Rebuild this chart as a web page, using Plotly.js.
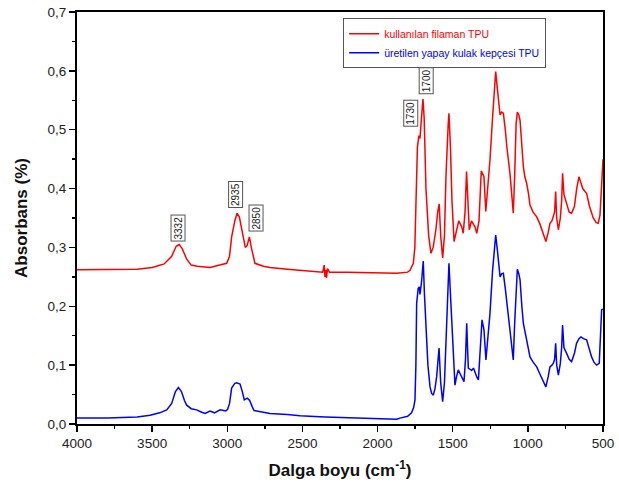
<!DOCTYPE html>
<html>
<head>
<meta charset="utf-8">
<script src="https://cdn.plot.ly/plotly-3.0.1.min.js"></script>
<style>html,body{margin:0;padding:0;background:#fff;}#chart{width:619px;height:488px;}</style>
</head>
<body>
<div id="chart"></div>
<script>
// Red: kullanılan filaman TPU
const redWn = [4000,3800,3600,3500,3420,3370,3340,3320,3300,3270,3240,3200,3115,3050,3004,2985,2971,2950,2935,2920,2900,2880,2868,2853,2840,2816,2760,2716,2600,2405,2365,2355,2350,2345,2340,2333,2320,2200,2000,1873,1800,1784,1762,1752,1744,1735,1725,1718,1708,1698,1690,1678,1660,1645,1630,1612,1600,1590,1580,1567,1555,1545,1530,1525,1515,1505,1491,1475,1460,1450,1440,1430,1418,1408,1400,1390,1375,1365,1352,1340,1325,1310,1300,1292,1280,1270,1252,1235,1222,1214,1205,1195,1185,1175,1163,1150,1140,1119,1105,1097,1088,1078,1070,1060,1052,1040,1030,1020,1008,995,986,965,941,920,897,880,865,853,840,831,822,815,808,797,784,775,769,760,742,725,709,690,675,660,647,635,620,609,590,565,545,532,520,512,505,500];
const redAbs = [0.262,0.262,0.263,0.266,0.272,0.285,0.302,0.305,0.298,0.280,0.270,0.268,0.266,0.270,0.273,0.285,0.318,0.345,0.358,0.352,0.325,0.300,0.303,0.318,0.300,0.273,0.268,0.266,0.263,0.259,0.258,0.270,0.250,0.262,0.248,0.264,0.258,0.258,0.256,0.256,0.258,0.261,0.273,0.300,0.380,0.470,0.490,0.485,0.520,0.552,0.520,0.400,0.320,0.290,0.300,0.330,0.360,0.374,0.320,0.282,0.320,0.420,0.510,0.528,0.470,0.380,0.310,0.330,0.345,0.340,0.335,0.324,0.360,0.429,0.370,0.330,0.345,0.341,0.335,0.324,0.345,0.430,0.425,0.420,0.361,0.390,0.449,0.520,0.580,0.599,0.575,0.550,0.525,0.530,0.528,0.500,0.471,0.426,0.380,0.358,0.420,0.510,0.530,0.525,0.516,0.470,0.437,0.420,0.409,0.390,0.372,0.360,0.352,0.340,0.324,0.310,0.325,0.341,0.345,0.355,0.360,0.395,0.350,0.330,0.350,0.380,0.426,0.390,0.375,0.360,0.358,0.370,0.400,0.420,0.410,0.400,0.395,0.392,0.370,0.350,0.342,0.341,0.355,0.400,0.449,0.450];

// Blue: üretilen yapay kulak kepçesi TPU
const blueWn = [4000,3800,3600,3514,3450,3403,3370,3345,3325,3305,3285,3270,3240,3204,3170,3148,3115,3085,3048,3010,2998,2985,2971,2950,2938,2915,2900,2887,2867,2851,2835,2822,2760,2716,2600,2516,2350,2184,2000,1873,1851,1800,1774,1760,1751,1745,1740,1730,1722,1718,1708,1696,1688,1678,1665,1651,1640,1629,1618,1607,1598,1591,1580,1567,1555,1545,1535,1525,1515,1507,1495,1485,1475,1463,1450,1440,1425,1415,1407,1400,1396,1385,1374,1362,1351,1340,1329,1318,1305,1292,1279,1265,1252,1235,1222,1214,1203,1195,1185,1175,1163,1150,1140,1119,1105,1097,1088,1078,1070,1060,1052,1040,1030,1008,986,965,941,920,897,880,865,853,840,831,822,815,808,797,784,775,769,760,742,725,709,690,676,660,647,630,609,590,576,560,543,525,515,509,500];
const blueAbs = [0.010,0.010,0.012,0.015,0.019,0.024,0.035,0.055,0.062,0.055,0.040,0.032,0.026,0.024,0.020,0.018,0.022,0.019,0.024,0.022,0.025,0.035,0.061,0.069,0.070,0.068,0.055,0.041,0.044,0.040,0.030,0.023,0.020,0.018,0.016,0.014,0.012,0.011,0.009,0.008,0.010,0.013,0.019,0.028,0.041,0.100,0.205,0.230,0.233,0.220,0.240,0.277,0.220,0.160,0.100,0.063,0.052,0.049,0.060,0.080,0.110,0.129,0.070,0.038,0.070,0.131,0.220,0.273,0.220,0.177,0.110,0.066,0.080,0.092,0.085,0.080,0.072,0.110,0.171,0.120,0.095,0.093,0.091,0.095,0.086,0.080,0.075,0.115,0.177,0.160,0.109,0.150,0.188,0.260,0.305,0.321,0.296,0.270,0.250,0.255,0.256,0.230,0.208,0.160,0.125,0.109,0.170,0.240,0.263,0.255,0.245,0.200,0.171,0.143,0.114,0.105,0.097,0.085,0.072,0.063,0.080,0.097,0.100,0.103,0.110,0.137,0.100,0.083,0.103,0.130,0.168,0.130,0.120,0.110,0.106,0.120,0.137,0.145,0.148,0.145,0.143,0.125,0.114,0.105,0.100,0.103,0.150,0.194,0.195];

const seriesNames = ['kullanılan filaman TPU', 'üretilen yapay kulak kepçesi TPU'];
const seriesColors = ['#ff0000', '#0000ff'];
const peakLabels = ['3332', '2935', '2850', '1730', '1700'];

const traces = [
  {x: redWn, y: redAbs, type: 'scatter', mode: 'lines',
   name: '<span style="color:' + seriesColors[0] + '">' + seriesNames[0] + '</span>',
   line: {color: seriesColors[0], width: 1.5}},
  {x: blueWn, y: blueAbs, type: 'scatter', mode: 'lines',
   name: '<span style="color:' + seriesColors[1] + '">' + seriesNames[1] + '</span>',
   line: {color: seriesColors[1], width: 1.5}}
];

// label box centres (layout placement)
const labelPos = [[3331, 0.333], [2945, 0.39], [2812, 0.35], [1781, 0.528], [1678, 0.584]];
const annotations = peakLabels.map((t, i) => ({
  x: labelPos[i][0], y: labelPos[i][1], xref: 'x', yref: 'y',
  text: t, showarrow: false, textangle: -90,
  xanchor: 'center', yanchor: 'middle',
  font: {family: 'Liberation Sans, Arial, sans-serif', size: 10, color: '#222'},
  bgcolor: '#ffffff', bordercolor: '#555', borderwidth: 1, borderpad: 1
}));

const layout = {
  width: 619, height: 488,
  margin: {l: 77, r: 16, t: 12, b: 64},
  paper_bgcolor: '#ffffff', plot_bgcolor: '#ffffff',
  separators: ',.',
  font: {family: 'Liberation Sans, Arial, sans-serif', color: '#222', size: 13},
  showlegend: true,
  legend: {x: 0.506, y: 0.985, xanchor: 'left', yanchor: 'top',
    bgcolor: '#ffffff', bordercolor: '#555', borderwidth: 1,
    font: {size: 10.5, family: 'Liberation Sans, Arial, sans-serif'},
    itemwidth: 30, tracegroupgap: 0},
  xaxis: {range: [4000, 500], autorange: false,
    tickvals: [4000,3500,3000,2500,2000,1500,1000,500],
    ticks: 'outside', ticklen: 6, tickwidth: 1.5, tickcolor: '#000',
    minor: {dtick: 250, ticks: 'outside', ticklen: 3, tickwidth: 1.5, tickcolor: '#000'},
    showline: true, linecolor: '#000', linewidth: 2, mirror: true,
    showgrid: false, zeroline: false,
    tickfont: {size: 13.5, color: '#222'},
    title: {text: 'Dalga boyu (cm<sup>-1</sup>)', standoff: 14,
      font: {size: 17, color: '#111', family: 'Liberation Sans, Arial, sans-serif', weight: 'bold'}}},
  yaxis: {range: [0, 0.7], autorange: false, dtick: 0.1, tickformat: '.1f',
    ticks: 'outside', ticklen: 6, tickwidth: 1.5, tickcolor: '#000',
    minor: {dtick: 0.05, ticks: 'outside', ticklen: 3, tickwidth: 1.5, tickcolor: '#000'},
    showline: true, linecolor: '#000', linewidth: 2, mirror: true,
    showgrid: false, zeroline: false,
    tickfont: {size: 13.5, color: '#222'},
    title: {text: 'Absorbans (%)', standoff: 16,
      font: {size: 17, color: '#111', family: 'Liberation Sans, Arial, sans-serif', weight: 'bold'}}},
  annotations: annotations
};

Plotly.newPlot('chart', traces, layout, {staticPlot: true, displayModeBar: false});
</script>
</body>
</html>
